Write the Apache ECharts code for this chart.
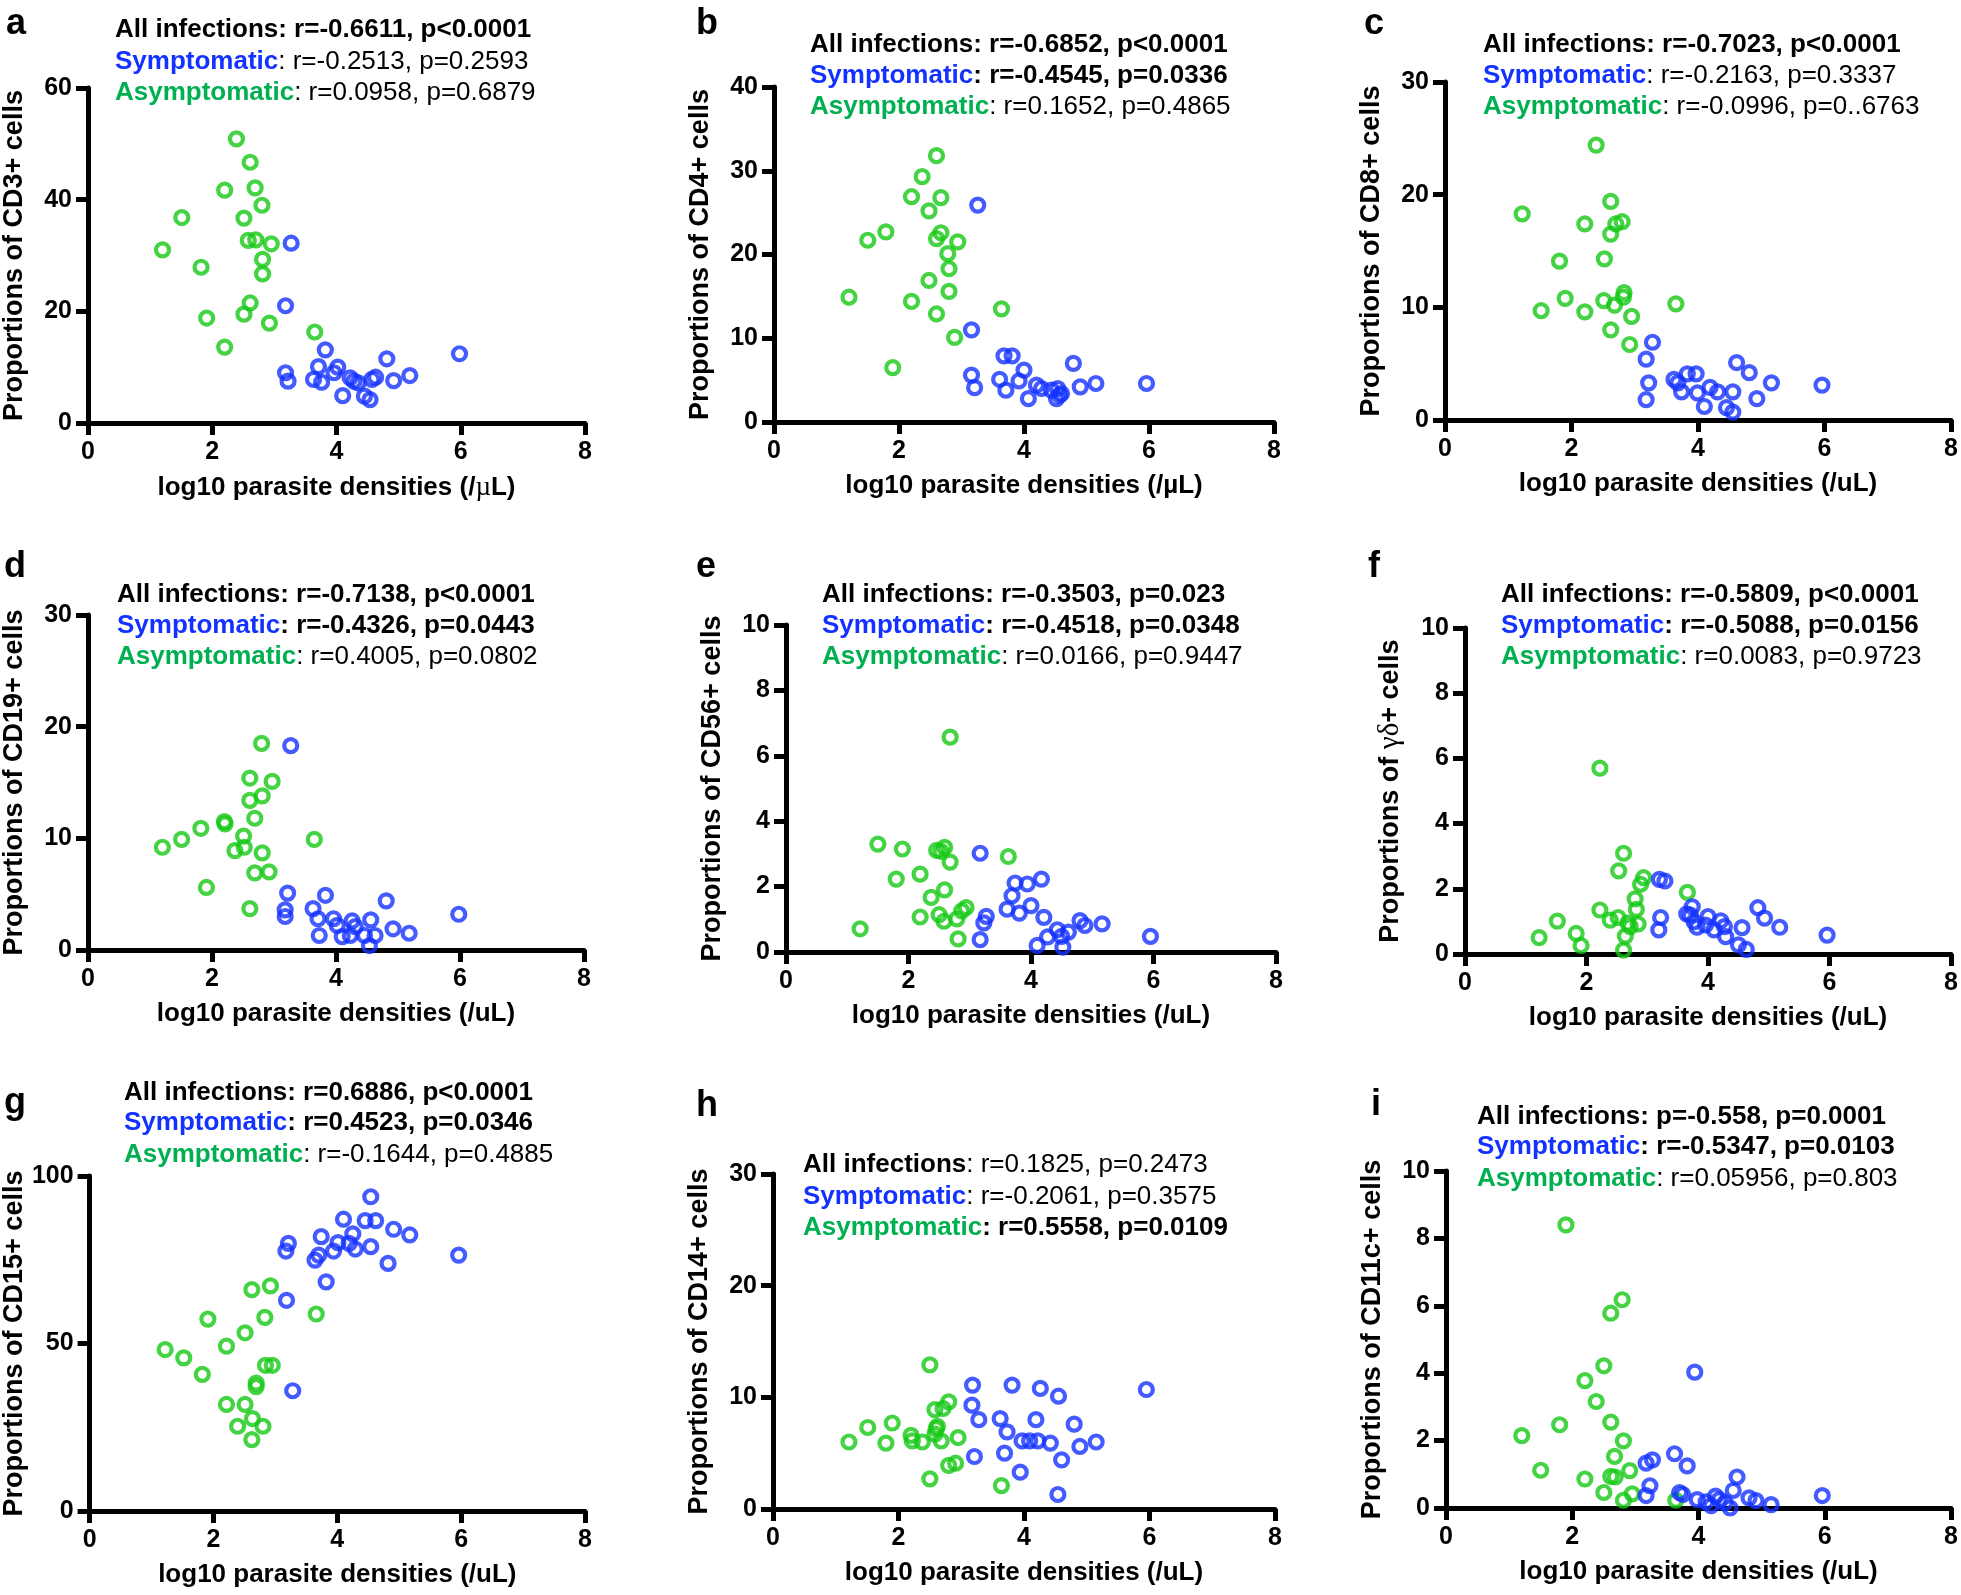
<!DOCTYPE html>
<html>
<head>
<meta charset="utf-8">
<script src="https://cdn.jsdelivr.net/npm/echarts@6/dist/echarts.min.js"></script>
<style>
html, body { margin: 0; padding: 0; background: #fff; }
#main { width: 1961px; height: 1595px; }
</style>
</head>
<body>
<div id="main"></div>
<script>
// x ticks shared by all panels
var xTicks = [0, 2, 4, 6, 8];

// panel a: CD3+
var asymA = [[2.39,50.9],[2.61,46.7],[2.20,41.7],[2.69,42.1],[2.80,39.0],[1.51,36.8],[2.51,36.7],[2.58,32.7],[2.70,32.8],[2.95,32.1],[1.20,31.0],[2.81,29.3],[1.82,27.9],[2.81,26.7],[2.61,21.5],[2.51,19.5],[1.91,18.8],[2.92,17.9],[3.65,16.3],[2.20,13.6]];
var symA = [[3.27,32.2],[3.18,21.0],[3.82,13.1],[4.81,11.5],[5.98,12.4],[3.18,9.0],[3.22,7.5],[3.71,10.1],[3.63,7.8],[3.76,7.3],[4.02,10.0],[3.96,9.0],[4.22,8.1],[4.28,7.5],[4.10,4.9],[4.45,4.8],[4.54,4.2],[4.57,7.8],[4.63,8.2],[4.92,7.6],[5.18,8.5],[4.35,7.2]];
var statsA = ['{kb|All infections: r=-0.6611, p<0.0001}', '{sb|Symptomatic}{n|: r=-0.2513, p=0.2593}', '{ab|Asymptomatic}{n|: r=0.0958, p=0.6879}'];

// panel b: CD4+
var asymB = [[2.60,31.8],[2.37,29.3],[2.20,26.9],[2.67,26.8],[2.48,25.2],[1.79,22.7],[1.50,21.7],[2.67,22.6],[2.60,21.9],[2.94,21.5],[2.78,20.1],[2.80,18.3],[2.48,16.9],[2.80,15.6],[1.20,14.9],[2.20,14.4],[2.60,12.9],[3.64,13.5],[2.89,10.1],[1.90,6.5]];
var symB = [[3.26,25.9],[3.16,11.0],[3.68,7.9],[3.81,7.9],[4.79,7.0],[4.00,6.2],[3.16,5.6],[3.21,4.1],[3.61,5.1],[3.92,4.9],[3.71,3.8],[4.20,4.4],[4.28,4.0],[4.07,2.8],[4.54,4.0],[4.52,2.8],[4.60,3.4],[4.90,4.2],[5.15,4.6],[5.96,4.6],[4.44,3.8],[4.57,3.2]];
var statsB = ['{kb|All infections: r=-0.6852, p<0.0001}', '{sb|Symptomatic}{b|: r=-0.4545, p=0.0336}', '{ab|Asymptomatic}{n|: r=0.1652, p=0.4865}'];

// panel c: CD8+
var asymC = [[2.39,24.4],[2.62,19.4],[1.22,18.3],[2.21,17.4],[2.70,17.4],[2.80,17.6],[2.62,16.5],[2.52,14.3],[1.81,14.1],[2.83,11.3],[2.82,10.9],[1.90,10.8],[2.51,10.6],[2.68,10.2],[3.65,10.3],[1.52,9.7],[2.21,9.6],[2.95,9.2],[2.62,8.0],[2.92,6.7]];
var symC = [[3.28,6.9],[3.18,5.4],[4.61,5.1],[4.81,4.2],[5.16,3.3],[5.96,3.1],[3.22,3.3],[3.18,1.8],[3.62,3.6],[3.83,4.1],[3.97,4.1],[3.74,2.5],[3.99,2.4],[4.19,2.9],[4.31,2.5],[4.55,2.5],[4.10,1.2],[4.93,1.9],[4.45,1.1],[4.55,0.7],[3.68,3.3]];
var statsC = ['{kb|All infections: r=-0.7023, p<0.0001}', '{sb|Symptomatic}{n|: r=-0.2163, p=0.3337}', '{ab|Asymptomatic}{n|: r=-0.0996, p=0..6763}'];

// panel d: CD19+
var asymD = [[2.80,18.5],[2.61,15.4],[2.97,15.1],[2.61,13.4],[2.81,13.8],[2.69,11.8],[2.20,11.5],[2.21,11.3],[1.82,10.9],[1.51,9.9],[2.51,10.2],[1.20,9.2],[2.37,8.9],[2.52,9.2],[2.81,8.7],[3.65,9.9],[2.69,6.9],[2.92,7.0],[1.91,5.6],[2.61,3.7]];
var symD = [[3.27,18.3],[3.22,5.1],[3.83,4.9],[4.81,4.4],[5.98,3.2],[3.18,3.6],[3.18,3.0],[3.63,3.7],[3.71,2.8],[3.96,2.8],[4.02,2.2],[4.26,2.6],[4.31,2.1],[4.56,2.7],[3.73,1.3],[4.10,1.2],[4.23,1.3],[4.46,1.3],[4.63,1.3],[4.92,1.9],[5.18,1.5],[4.54,0.4]];
var statsD = ['{kb|All infections: r=-0.7138, p<0.0001}', '{sb|Symptomatic}{b|: r=-0.4326, p=0.0443}', '{ab|Asymptomatic}{n|: r=0.4005, p=0.0802}'];

// panel e: CD56+
var asymE = [[2.68,6.57],[1.50,3.30],[1.90,3.15],[2.46,3.11],[2.59,3.20],[2.53,3.08],[2.68,2.75],[3.63,2.92],[2.19,2.38],[1.80,2.23],[2.59,1.90],[2.37,1.67],[2.94,1.36],[2.87,1.26],[2.19,1.07],[2.50,1.14],[2.58,0.94],[2.79,1.01],[1.21,0.71],[2.81,0.40]];
var symE = [[3.17,3.02],[3.74,2.11],[3.94,2.08],[4.17,2.23],[3.69,1.72],[3.61,1.31],[3.81,1.19],[4.00,1.42],[4.21,1.06],[3.27,1.09],[3.23,0.89],[4.80,0.96],[4.88,0.81],[5.16,0.86],[4.43,0.68],[4.61,0.61],[4.27,0.46],[5.95,0.48],[3.17,0.38],[4.10,0.20],[4.52,0.15],[4.50,0.48]];
var statsE = ['{kb|All infections: r=-0.3503, p=0.023}', '{sb|Symptomatic}{b|: r=-0.4518, p=0.0348}', '{ab|Asymptomatic}{n|: r=0.0166, p=0.9447}'];

// panel f: gamma delta
var asymF = [[2.22,5.70],[2.61,3.09],[2.53,2.55],[2.94,2.34],[2.89,2.14],[3.66,1.89],[2.80,1.69],[2.82,1.37],[2.22,1.35],[2.52,1.12],[2.39,1.04],[1.52,1.01],[2.85,0.92],[2.72,0.84],[1.83,0.63],[2.64,0.55],[1.22,0.50],[1.91,0.26],[2.61,0.12],[2.68,0.95]];
var symF = [[3.20,2.29],[3.29,2.24],[3.22,1.12],[3.19,0.74],[3.74,1.45],[3.65,1.23],[4.82,1.42],[4.93,1.10],[5.18,0.82],[5.96,0.58],[4.00,1.15],[4.21,1.02],[3.77,0.99],[3.82,0.82],[3.96,0.89],[4.10,0.74],[4.27,0.84],[4.56,0.81],[4.29,0.53],[4.50,0.28],[4.63,0.14],[3.71,1.19]];
var statsF = ['{kb|All infections: r=-0.5809, p<0.0001}', '{sb|Symptomatic}{b|: r=-0.5088, p=0.0156}', '{ab|Asymptomatic}{n|: r=0.0083, p=0.9723}'];

// panel g: CD15+
var asymG = [[2.92,67.2],[2.62,66.1],[3.66,58.8],[1.91,57.3],[2.83,57.8],[2.51,53.2],[2.21,49.2],[1.22,48.2],[1.52,45.7],[1.82,40.8],[2.84,43.5],[2.95,43.5],[2.69,38.2],[2.69,37.1],[2.21,31.8],[2.51,31.8],[2.63,27.6],[2.39,25.3],[2.80,25.3],[2.62,21.3]];
var symG = [[4.54,93.8],[4.10,87.1],[4.45,86.7],[4.62,86.7],[4.91,84.1],[5.17,82.4],[4.25,82.7],[3.74,81.9],[4.01,80.1],[3.21,79.9],[3.17,77.6],[4.19,79.9],[4.54,78.9],[4.29,78.2],[3.94,77.6],[3.70,76.4],[3.64,74.9],[5.96,76.4],[4.82,73.9],[3.82,68.4],[3.18,62.9],[3.28,35.9]];
var statsG = ['{kb|All infections: r=0.6886, p<0.0001}', '{sb|Symptomatic}{b|: r=0.4523, p=0.0346}', '{ab|Asymptomatic}{n|: r=-0.1644, p=0.4885}'];

// panel h: CD14+
var asymH = [[2.50,12.9],[2.80,9.6],[2.71,9.0],[2.58,8.9],[1.90,7.7],[1.51,7.3],[2.60,7.2],[2.20,6.6],[2.22,6.1],[2.38,6.0],[2.68,6.1],[2.95,6.4],[1.21,6.0],[1.80,5.9],[2.58,6.7],[2.80,3.9],[2.91,4.1],[2.50,2.7],[3.64,2.1],[2.62,7.4]];
var symH = [[3.18,11.1],[3.81,11.1],[4.26,10.8],[4.55,10.1],[5.95,10.7],[3.17,9.3],[3.28,8.0],[3.62,8.1],[4.19,8.0],[4.80,7.6],[3.73,6.9],[3.97,6.1],[4.09,6.1],[4.22,6.1],[4.42,5.9],[4.89,5.6],[5.15,6.0],[3.69,5.0],[3.21,4.7],[4.60,4.4],[3.94,3.3],[4.54,1.3]];
var statsH = ['{kb|All infections}{n|: r=0.1825, p=0.2473}', '{sb|Symptomatic}{n|: r=-0.2061, p=0.3575}', '{ab|Asymptomatic}{b|: r=0.5558, p=0.0109}'];

// panel i: CD11c+
var asymI = [[1.90,8.40],[2.79,6.18],[2.61,5.78],[2.50,4.22],[2.20,3.78],[2.38,3.16],[1.80,2.47],[2.61,2.55],[1.20,2.15],[2.81,1.99],[2.67,1.53],[1.50,1.12],[2.91,1.11],[2.61,0.94],[2.68,0.92],[2.20,0.86],[2.50,0.46],[2.95,0.42],[2.81,0.23],[3.64,0.23]];
var symI = [[3.94,4.03],[3.62,1.61],[3.82,1.25],[3.27,1.43],[3.17,1.33],[4.61,0.92],[3.23,0.66],[3.17,0.37],[3.70,0.46],[3.75,0.40],[4.55,0.52],[5.96,0.37],[4.80,0.30],[4.91,0.22],[5.15,0.10],[3.98,0.25],[4.12,0.18],[4.27,0.35],[4.20,0.07],[4.50,0.00],[4.42,0.15],[4.33,0.25]];
var statsI = ['{kb|All infections: p=-0.558, p=0.0001}', '{sb|Symptomatic}{b|: r=-0.5347, p=0.0103}', '{ab|Asymptomatic}{n|: r=0.05956, p=0.803}'];

var yMaxes = [60, 40, 30, 30, 10, 10, 100, 30, 10];
var yIntervals = [20, 10, 10, 10, 2, 2, 50, 10, 2];
var yNames = ['Proportions of CD3+ cells', 'Proportions of CD4+ cells', 'Proportions of CD8+ cells',
    'Proportions of CD19+ cells', 'Proportions of CD56+ cells', 'Proportions of {g|γδ}+ cells',
    'Proportions of CD15+ cells', 'Proportions of CD14+ cells', 'Proportions of CD11c+ cells'];
var xNames = ['log10 parasite densities (/{g|µ}L)', 'log10 parasite densities (/µL)', 'log10 parasite densities (/uL)',
    'log10 parasite densities (/uL)', 'log10 parasite densities (/uL)', 'log10 parasite densities (/uL)',
    'log10 parasite densities (/uL)', 'log10 parasite densities (/uL)', 'log10 parasite densities (/uL)'];
var letters = ['a', 'b', 'c', 'd', 'e', 'f', 'g', 'h', 'i'];

var symData = [symA, symB, symC, symD, symE, symF, symG, symH, symI];
var asymData = [asymA, asymB, asymC, asymD, asymE, asymF, asymG, asymH, asymI];
var stats = [statsA, statsB, statsC, statsD, statsE, statsF, statsG, statsH, statsI];

// layout (pixels): left, top, width, height of each plot area
var gridBoxes = [
    [83, 88, 502, 335], [774, 87, 500, 335], [1445, 82, 507, 338],
    [83, 615, 501, 335], [786, 625, 490, 327], [1465, 628, 489, 326],
    [84, 1176, 501, 335], [773, 1174, 502, 335], [1446, 1171, 506, 337]
];
// letter: left, baseline
var letterPos = [[6, 37], [696, 37], [1364, 37], [4, 580], [696, 580], [1368, 580], [4, 1116], [696, 1119], [1371, 1118]];
// stats: left, centre of line 1..3
var statPos = [
    [115, 30, 62, 93], [810, 45, 76, 107], [1483, 45, 76, 107],
    [117, 595, 626, 657], [822, 595, 626, 657], [1501, 595, 626, 657],
    [124, 1093, 1123, 1155], [803, 1165, 1197, 1228], [1477, 1117, 1147, 1179]
];

var BLUE = '#1432ff';
var GREEN = '#14c814';
var GREEN_TXT = '#00b050';
var REG = "'Liberation Sans', Arial, sans-serif";
var SERIF = "'Liberation Serif', 'DejaVu Serif', serif";
var STAT_SIZE = 26;

var option = {
    animation: false,
    backgroundColor: '#fff',
    grid: [], xAxis: [], yAxis: [], series: [], graphic: []
};

var statRich = {
    kb: { fontFamily: REG, fontSize: STAT_SIZE, fontWeight: 'bold', fill: '#000' },
    b: { fontFamily: REG, fontSize: STAT_SIZE, fontWeight: 'bold', fill: '#000' },
    n: { fontFamily: REG, fontSize: STAT_SIZE, fontWeight: 'normal', fill: '#000' },
    sb: { fontFamily: REG, fontSize: STAT_SIZE, fontWeight: 'bold', fill: BLUE },
    ab: { fontFamily: REG, fontSize: STAT_SIZE, fontWeight: 'bold', fill: GREEN_TXT }
};

for (var i = 0; i < 9; i++) {
    var g = gridBoxes[i];
    option.grid.push({ left: g[0], top: g[1], width: g[2], height: g[3], containLabel: false });
    option.xAxis.push({
        gridIndex: i, type: 'value', min: xTicks[0], max: xTicks[xTicks.length - 1], interval: 2,
        splitLine: { show: false },
        axisLine: { show: true, onZero: false, lineStyle: { color: '#000', width: 5 } },
        axisTick: { show: true, inside: false, length: 12, lineStyle: { color: '#000', width: 5 } },
        axisLabel: { margin: 17, color: '#000', fontFamily: REG, fontSize: 25, fontWeight: 'bold' },
        name: xNames[i], nameLocation: 'middle', nameGap: 51,
        nameTextStyle: {
            color: '#000', fontFamily: REG, fontSize: 26, fontWeight: 'bold',
            rich: { g: { fontFamily: SERIF, fontSize: 27, fontWeight: 'normal', color: '#000' } }
        }
    });
    option.yAxis.push({
        gridIndex: i, type: 'value', min: 0, max: yMaxes[i], interval: yIntervals[i],
        splitLine: { show: false },
        axisLine: { show: true, onZero: false, lineStyle: { color: '#000', width: 5 } },
        axisTick: { show: true, inside: false, length: 12, lineStyle: { color: '#000', width: 5 } },
        axisLabel: { margin: 16, color: '#000', fontFamily: REG, fontSize: 25, fontWeight: 'bold' },
        name: yNames[i], nameLocation: 'middle', nameGap: 60, nameRotate: 90,
        nameTextStyle: {
            color: '#000', fontFamily: REG, fontSize: 27, fontWeight: 'bold',
            rich: { g: { fontFamily: SERIF, fontSize: 29, fontWeight: 'normal', color: '#000' } }
        }
    });
    option.series.push({
        type: 'scatter', xAxisIndex: i, yAxisIndex: i, name: 'Asymptomatic',
        data: asymData[i], symbol: 'circle', symbolSize: 13,
        itemStyle: { color: 'rgba(0,0,0,0)', borderColor: GREEN, borderWidth: 4.2 }
    });
    option.series.push({
        type: 'scatter', xAxisIndex: i, yAxisIndex: i, name: 'Symptomatic',
        data: symData[i], symbol: 'circle', symbolSize: 13,
        itemStyle: { color: 'rgba(0,0,0,0)', borderColor: BLUE, borderWidth: 4.2 }
    });

    // panel letter
    option.graphic.push({
        type: 'text', x: letterPos[i][0], y: letterPos[i][1] - 13,
        style: { text: letters[i], fill: '#000', font: 'bold 36px ' + REG, verticalAlign: 'middle', align: 'left' }
    });
    // stats lines
    for (var k = 0; k < 3; k++) {
        option.graphic.push({
            type: 'text', x: statPos[i][0], y: statPos[i][k + 1],
            style: { text: stats[i][k], rich: statRich, verticalAlign: 'middle', align: 'left', font: STAT_SIZE + 'px ' + REG }
        });
    }
}

var myChart = echarts.init(document.getElementById('main'));
myChart.setOption(option);
</script>
</body>
</html>
